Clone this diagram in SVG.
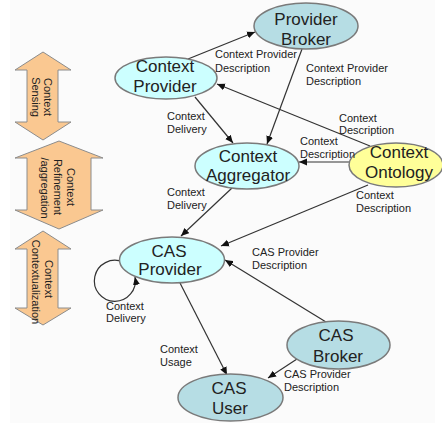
<svg xmlns="http://www.w3.org/2000/svg" width="442" height="423" viewBox="0 0 442 423">
<style>
.node{stroke:#7a7a7a;stroke-width:1.5}
.cyan{fill:#ccffff}
.teal{fill:#b6dde4}
.yellow{fill:#ffff99}
.nt{font-family:"Liberation Sans",Arial,sans-serif;font-size:17px;fill:#222;text-anchor:middle}
.lbl{font-family:"Liberation Sans",Arial,sans-serif;font-size:11px;fill:#222}
.edge{stroke:#333;stroke-width:1.2;fill:none;marker-end:url(#ah)}
.band{fill:#fac891;stroke:#8c8c8c;stroke-width:1}
.bt{font-family:"Liberation Sans",Arial,sans-serif;font-size:11px;fill:#222;text-anchor:middle}
</style>
<defs>
<marker id="ah" markerUnits="userSpaceOnUse" markerWidth="9" markerHeight="8" refX="8" refY="4" orient="auto">
<path d="M0,0.5 L8,4 L0,7.5 Z" fill="#111"/>
</marker>
</defs>
<rect x="0" y="0" width="442" height="423" fill="#ffffff"/>
<rect x="10" y="0" width="425" height="423" fill="#fbfbfb"/>

<g id="band-sensing">
<polygon class="band" points="43,52 71,70 58,70 58,122 71,122 43,140 15,122 27,122 27,70 15,70"/>
<text class="bt" transform="translate(44,97) rotate(90)">Context</text>
<text class="bt" transform="translate(32,97) rotate(90)">Sensing</text>
</g>
<g id="band-refinement">
<polygon class="band" points="59,141 103,158 91,158 91,210 103,210 59,229 15,210 27,210 27,158 15,158"/>
<text class="bt" transform="translate(67,187) rotate(90)">Context</text>
<text class="bt" transform="translate(54,187) rotate(90)">Refinement</text>
<text class="bt" transform="translate(41,188) rotate(90)">/aggregation</text>
</g>
<g id="band-contextualization">
<polygon class="band" points="43,231 71,249 58,249 58,308 71,308 43,325 15,308 27,308 27,249 15,249"/>
<text class="bt" transform="translate(45,279) rotate(90)">Context</text>
<text class="bt" transform="translate(32,282) rotate(90)">Contextualization</text>
</g>

<g id="connectors">
<path class="edge" d="M188,59 L255,32"/>
<path class="edge" d="M302,49 L267,144"/>
<path class="edge" d="M370,146 L217,84"/>
<path class="edge" d="M351,162 L299,162"/>
<path class="edge" d="M195,97 L233,143"/>
<path class="edge" d="M232,188 L181,236"/>
<path class="edge" d="M368,185 L221,246"/>
<path class="edge" d="M326,322 L225,260"/>
<path class="edge" d="M180,283 L227,375"/>
<path class="edge" d="M297,359 L268,378"/>
<path class="edge" d="M123,262 A20.5,20.5 0 1 0 135,277"/>
</g>

<g id="provider-broker">
<ellipse class="node teal" cx="306" cy="26" rx="52" ry="23"/>
<text class="nt" x="306" y="25">Provider</text>
<text class="nt" x="306" y="45">Broker</text>
</g>
<g id="context-provider">
<ellipse class="node cyan" cx="166" cy="78" rx="51" ry="21"/>
<text class="nt" x="165" y="72">Context</text>
<text class="nt" x="165" y="92">Provider</text>
</g>
<g id="context-aggregator">
<ellipse class="node cyan" cx="247" cy="166" rx="52" ry="23"/>
<text class="nt" x="248" y="162">Context</text>
<text class="nt" x="248" y="181">Aggregator</text>
</g>
<g id="context-ontology">
<ellipse class="node yellow" cx="396" cy="165" rx="47" ry="22"/>
<text class="nt" x="399" y="158">Context</text>
<text class="nt" x="399" y="178">Ontology</text>
</g>
<g id="cas-provider">
<ellipse class="node cyan" cx="172" cy="260" rx="52.5" ry="23"/>
<text class="nt" x="169" y="257">CAS</text>
<text class="nt" x="170" y="275">Provider</text>
</g>
<g id="cas-broker">
<ellipse class="node teal" cx="338.5" cy="345" rx="51.5" ry="24"/>
<text class="nt" x="336" y="341">CAS</text>
<text class="nt" x="338" y="362">Broker</text>
</g>
<g id="cas-user">
<ellipse class="node teal" cx="230.5" cy="397.5" rx="52.5" ry="23.5"/>
<text class="nt" x="229" y="394">CAS</text>
<text class="nt" x="230" y="414">User</text>
</g>

<g id="edge-labels">
<text class="lbl" x="215" y="58">Context Provider</text>
<text class="lbl" x="215" y="72">Description</text>
<text class="lbl" x="306" y="72">Context Provider</text>
<text class="lbl" x="306" y="85">Description</text>
<text class="lbl" x="339" y="122">Context</text>
<text class="lbl" x="339" y="134">Description</text>
<text class="lbl" x="300" y="145">Context</text>
<text class="lbl" x="300" y="158">Description</text>
<text class="lbl" x="167" y="120">Context</text>
<text class="lbl" x="167" y="133">Delivery</text>
<text class="lbl" x="167" y="196">Context</text>
<text class="lbl" x="167" y="209">Delivery</text>
<text class="lbl" x="356" y="199">Context</text>
<text class="lbl" x="356" y="212">Description</text>
<text class="lbl" x="252" y="256">CAS Provider</text>
<text class="lbl" x="252" y="269">Description</text>
<text class="lbl" x="160" y="353">Context</text>
<text class="lbl" x="160" y="366">Usage</text>
<text class="lbl" x="106" y="310">Context</text>
<text class="lbl" x="106" y="322">Delivery</text>
<text class="lbl" x="284" y="378">CAS Provider</text>
<text class="lbl" x="284" y="391">Description</text>
</g>
</svg>
